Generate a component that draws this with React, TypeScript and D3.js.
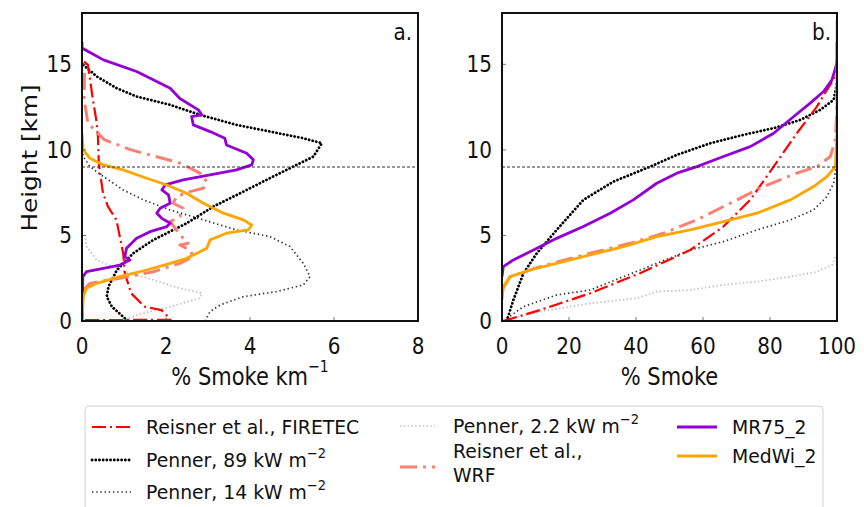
import React from "react";
import * as d3 from "d3";

type Pt = [number, number]; // [x value, height km]

// ---------- Panel a: % smoke per km vs height ----------
const firetecA: Pt[] = [
  [0.05, 15.16], [0.14, 14.97], [0.18, 14.29], [0.26, 12.92], [0.34, 11.75], [0.38, 10.78],
  [0.4, 9.24], [0.42, 8.83], [0.5, 7.47], [0.62, 6.68], [0.82, 5.91], [0.9, 4.93], [0.98, 3.96],
  [1.02, 2.79], [1.17, 1.62], [1.49, 0.84], [1.89, 0.64], [2.05, 0.25], [2.1, 0.07], [0, 0.05],
];
const penner89A: Pt[] = [
  [0.03, 14.97], [0.35, 14.29], [0.83, 13.6], [1.3, 13.12], [2.1, 12.63], [2.81, 12.05],
  [3.68, 11.46], [4.48, 11.07], [5.27, 10.68], [5.71, 10.39], [5.51, 9.61], [5.19, 9.22],
  [4.63, 8.54], [3.84, 7.56], [3.13, 6.69], [2.49, 5.71], [1.7, 4.74], [1.22, 3.96], [0.83, 2.98],
  [0.63, 2.01], [0.59, 1.42], [0.71, 0.84], [1.02, 0.16], [1.1, 0],
];
const penner14A: Pt[] = [
  [0.0, 10.0], [0.03, 9.61], [0.19, 9.02], [0.51, 8.44], [0.98, 7.66], [1.46, 7.08], [2.1, 6.49],
  [2.89, 5.91], [3.68, 5.32], [4.48, 4.93], [4.95, 4.35], [5.27, 3.37], [5.43, 2.59], [5.27, 2.11],
  [4.63, 1.72], [3.84, 1.42], [3.29, 0.94], [3.05, 0.55], [2.93, 0],
];
const penner22A: Pt[] = [
  [0.07, 5.03], [0.11, 4.35], [0.35, 3.57], [0.9, 2.98], [1.7, 2.4], [2.33, 1.91], [2.85, 1.62],
  [2.81, 1.33], [2.1, 0.84], [1.3, 0.35], [0.98, 0],
];
const wrfA: Pt[] = [
  [0.06, 14.5], [0.05, 13.0], [0.14, 11.56], [0.54, 10.58], [1.17, 10.0], [2.05, 9.42],
  [2.33, 9.22], [2.81, 8.64], [2.97, 8.15], [2.89, 7.76], [2.57, 7.56], [2.25, 7.27], [2.17, 6.88],
  [2.41, 6.59], [2.33, 6.1], [2.1, 5.81], [2.25, 5.32], [2.41, 4.83], [2.53, 4.54], [2.33, 4.44],
  [2.57, 4.15], [2.65, 3.76], [2.33, 3.37], [1.7, 2.88], [0.9, 2.5], [0.19, 2.2], [0.03, 1.81],
  [0, 0],
];
const mr75A: Pt[] = [
  [0, 16.3], [0, 15.95], [0.51, 15.26], [1.3, 14.58], [1.78, 14.0], [2.1, 13.6], [2.33, 13.0],
  [2.77, 12.34], [2.85, 12.05], [2.61, 11.95], [2.65, 11.46], [3.05, 11.07], [3.4, 10.68],
  [3.44, 10.29], [3.92, 9.8], [4.08, 9.42], [4.04, 9.12], [3.68, 8.83], [3.05, 8.54], [2.41, 8.25],
  [1.98, 7.95], [1.9, 7.66], [2.06, 7.37], [2.1, 6.88], [1.86, 6.59], [1.78, 6.3], [1.9, 6.0],
  [2.1, 5.71], [2.02, 5.52], [1.62, 5.22], [1.3, 4.83], [1.06, 4.25], [1.02, 3.76], [1.14, 3.57],
  [0.9, 3.27], [0.51, 3.08], [0.11, 2.88], [0.02, 2.59], [0, 0],
];
const medwiA: Pt[] = [
  [0, 10.97], [0.03, 10.0], [0.19, 9.51], [0.51, 9.12], [0.98, 8.83], [1.54, 8.34], [2.02, 7.95],
  [2.49, 7.47], [2.89, 6.88], [3.37, 6.3], [3.84, 5.91], [4.04, 5.61], [3.96, 5.32], [3.44, 5.13],
  [3.05, 4.74], [2.97, 4.25], [2.81, 4.05], [2.49, 3.66], [2.1, 3.37], [1.54, 2.98], [0.9, 2.59],
  [0.35, 2.2], [0.11, 1.91], [0.03, 1.42], [0, 0],
];

// ---------- Panel b: cumulative % smoke vs height ----------
const firetecB: Pt[] = [
  [0.4, 0], [11.4, 0.64], [26.3, 1.62], [41.2, 2.79], [56.2, 4.15], [66.1, 5.52], [74.1, 7.08],
  [81.1, 9.02], [88.0, 10.97], [94.0, 12.53], [97.0, 13.51], [99.0, 14.1], [100, 15.3],
];
const penner89B: Pt[] = [
  [1.4, 0], [3.4, 1.23], [6.4, 2.79], [10.4, 3.96], [16.3, 5.32], [24.3, 7.08], [33.3, 8.15],
  [44.2, 9.02], [52.2, 9.71], [62.2, 10.39], [72.1, 10.88], [81.1, 11.27], [89.0, 11.75],
  [95.0, 12.34], [99.0, 12.92], [100, 13.9],
];
const penner14B: Pt[] = [
  [0.4, 0], [6.4, 0.84], [16.3, 1.52], [26.3, 1.81], [36.3, 2.59], [46.2, 3.37], [56.2, 4.15],
  [66.1, 4.64], [76.1, 5.32], [86.1, 5.91], [93.0, 6.49], [97.0, 7.27], [99.0, 8.05], [100, 9.42],
  [100, 9.8],
];
const penner22B: Pt[] = [
  [0.4, 0], [11.4, 0.55], [26.3, 1.03], [40.2, 1.33], [46.2, 1.72], [56.2, 1.81], [66.1, 2.11],
  [76.1, 2.3], [86.1, 2.59], [94.0, 2.88], [98.5, 3.27], [99.5, 3.76], [100, 3.96],
];
const wrfB: Pt[] = [
  [0, 1.81], [2.4, 2.59], [11.4, 3.18], [26.3, 3.96], [38.2, 4.54], [48.2, 5.13], [58.2, 5.91],
  [68.1, 6.88], [78.1, 7.86], [88.0, 8.64], [94.0, 9.02], [98.0, 9.61], [99.5, 10.58], [100, 12.5],
  [100, 14.5],
];
const mr75B: Pt[] = [
  [0, 2.59], [0.4, 3.18], [3.4, 3.57], [9.4, 4.15], [16.3, 4.83], [24.3, 5.52], [32.3, 6.3],
  [39.2, 7.08], [46.2, 8.05], [52.2, 8.64], [58.2, 9.02], [66.1, 9.61], [74.1, 10.19],
  [81.1, 10.97], [87.1, 11.95], [92.0, 12.73], [96.0, 13.41], [98.5, 14.09], [100, 15.07],
  [100, 16.3],
];
const medwiB: Pt[] = [
  [0, 1.23], [0.4, 2.01], [2.4, 2.59], [8.4, 2.98], [16.3, 3.37], [26.3, 3.86], [36.3, 4.35],
  [46.2, 4.93], [56.2, 5.32], [66.1, 5.81], [76.1, 6.3], [86.1, 7.08], [93.0, 7.86], [97.0, 8.44],
  [99.5, 9.02], [100, 10.97], [100, 17.6],
];

const xTicksA = [0, 2, 4, 6, 8];
const xTicksB = [0, 20, 40, 60, 80, 100];
const yTicks = [0, 5, 10, 15];
const tropopauseKm = 9;

type Style = { color: string; width: number; dash?: string; cap?: "round" | "butt" };
const styles: Record<string, Style> = {
  firetec: { color: "#ff0000", width: 2.2, dash: "14,4,2,4" },
  p89: { color: "#000000", width: 2.8, dash: "0.1,3.6", cap: "round" },
  p14: { color: "#333333", width: 1.7, dash: "1.4,2.8" },
  p22: { color: "#bdbdbd", width: 1.7, dash: "1.4,2.4" },
  wrf: { color: "#fa8072", width: 3, dash: "17,6,3,6" },
  mr75: { color: "#9400d3", width: 2.8 },
  medwi: { color: "#ffa500", width: 2.8 },
};

const seriesA: [string, Pt[]][] = [
  ["p22", penner22A], ["p14", penner14A], ["p89", penner89A], ["firetec", firetecA],
  ["wrf", wrfA], ["mr75", mr75A], ["medwi", medwiA],
];
const seriesB: [string, Pt[]][] = [
  ["p22", penner22B], ["p14", penner14B], ["p89", penner89B], ["firetec", firetecB],
  ["wrf", wrfB], ["mr75", mr75B], ["medwi", medwiB],
];

const FONT = "DejaVu Sans, Verdana, sans-serif";
const TOP = 13;
const BOTTOM = 321;

// Text with a slight vertical stretch of the glyphs.
function T(props: {
  x: number; y: number; size: number; anchor?: "start" | "middle" | "end";
  rotate?: number; stretch?: number; children: React.ReactNode;
}) {
  const { x, y, size, anchor = "start", rotate = 0, stretch = 1.15, children } = props;
  return (
    <g transform={`translate(${x},${y}) scale(1,${stretch}) rotate(${rotate})`}>
      <text x={0} y={0} textAnchor={anchor} dominantBaseline="central" fontSize={size}
        fontFamily={FONT} fill="#111">{children}</text>
    </g>
  );
}

function Panel(props: {
  id: string; x0: number; x1: number; domain: [number, number]; ticks: number[];
  series: [string, Pt[]][]; tag: string; xlabel: React.ReactNode;
}) {
  const { id, x0, x1, domain, ticks, series, tag, xlabel } = props;
  const x = d3.scaleLinear().domain(domain).range([x0, x1]);
  const y = d3.scaleLinear().domain([0, 18]).range([BOTTOM, TOP]);
  const line = d3.line<Pt>().x((d) => x(d[0])).y((d) => y(d[1]));
  return (
    <g>
      <defs>
        <clipPath id={id}>
          <rect x={x0} y={TOP} width={x1 - x0} height={BOTTOM - TOP} />
        </clipPath>
      </defs>
      <g clipPath={`url(#${id})`}>
        {series.map(([k, pts]) => {
          const s = styles[k];
          return (
            <path key={k} d={line(pts) ?? ""} fill="none" stroke={s.color} strokeWidth={s.width}
              strokeDasharray={s.dash} strokeLinecap={s.cap ?? "butt"} strokeLinejoin="round" />
          );
        })}
        <line x1={x0} x2={x1} y1={y(tropopauseKm)} y2={y(tropopauseKm)} stroke="#333"
          strokeWidth={1} strokeDasharray="3,2" />
      </g>
      {ticks.map((t) => (
        <g key={t}>
          <line x1={x(t)} x2={x(t)} y1={BOTTOM} y2={BOTTOM - 4} stroke="#555" strokeWidth={0.8} />
          <T x={x(t)} y={346} size={20} anchor="middle">{t}</T>
        </g>
      ))}
      {yTicks.map((t) => (
        <g key={t}>
          <line x1={x0} x2={x0 + 4} y1={y(t)} y2={y(t)} stroke="#555" strokeWidth={0.8} />
          <T x={x0 - 10} y={y(t)} size={20} anchor="end">{t}</T>
        </g>
      ))}
      <rect x={x0} y={TOP} width={x1 - x0} height={BOTTOM - TOP} fill="none" stroke="#111"
        strokeWidth={2} />
      <T x={x1 - 6} y={32} size={20} anchor="end">{tag}</T>
      <T x={(x0 + x1) / 2} y={376} size={21} anchor="middle">{xlabel}</T>
    </g>
  );
}

function Sup({ base, exp }: { base: string; exp: string }) {
  return (
    <>
      {base}
      <tspan dy={-7} fontSize={13}>{exp}</tspan>
    </>
  );
}

function Handle({ k, x1, x2, yy }: { k: string; x1: number; x2: number; yy: number }) {
  const s = styles[k];
  return (
    <line x1={x1} x2={x2} y1={yy} y2={yy} stroke={s.color} strokeWidth={s.width}
      strokeDasharray={s.dash} strokeLinecap={s.cap ?? "butt"} />
  );
}

export default function App() {
  const lf = 18.8;
  const ls = 1.06;
  return (
    <svg width={864} height={507} style={{ position: "absolute", left: 0, top: 0 }}>
      <rect width={864} height={507} fill="#fff" />
      <Panel id="clipA" x0={82} x1={418} domain={[0, 8]} ticks={xTicksA} series={seriesA}
        tag="a."
        xlabel={<><tspan>% Smoke km</tspan><tspan dy={-8} fontSize={14}>−1</tspan></>} />
      <Panel id="clipB" x0={502} x1={837} domain={[0, 100]} ticks={xTicksB} series={seriesB}
        tag="b." xlabel="% Smoke" />
      <T x={30} y={158} size={21.5} anchor="middle" rotate={-90}>Height [km]</T>

      <rect x={85} y={406} width={738} height={130} rx={4} fill="#fff" stroke="#d0d0d0"
        strokeWidth={1} />
      <Handle k="firetec" x1={92} x2={131} yy={427} />
      <T x={146} y={427} size={lf} stretch={ls}>Reisner et al., FIRETEC</T>
      <Handle k="p89" x1={92} x2={131} yy={460} />
      <T x={146} y={460} size={lf} stretch={ls}><Sup base="Penner, 89 kW m" exp="−2" /></T>
      <Handle k="p14" x1={92} x2={131} yy={492} />
      <T x={146} y={492} size={lf} stretch={ls}><Sup base="Penner, 14 kW m" exp="−2" /></T>

      <Handle k="p22" x1={400} x2={435} yy={426} />
      <T x={453} y={426} size={lf} stretch={ls}><Sup base="Penner, 2.2 kW m" exp="−2" /></T>
      <Handle k="wrf" x1={400} x2={435} yy={467} />
      <T x={453} y={450.5} size={lf} stretch={ls}>
        <tspan x={0}>Reisner et al.,</tspan>
        <tspan x={0} dy={22.6}>WRF</tspan>
      </T>

      <Handle k="mr75" x1={677} x2={717} yy={427} />
      <T x={732} y={427} size={lf} stretch={ls}>MR75_2</T>
      <Handle k="medwi" x1={677} x2={717} yy={456} />
      <T x={732} y={456} size={lf} stretch={ls}>MedWi_2</T>
    </svg>
  );
}
